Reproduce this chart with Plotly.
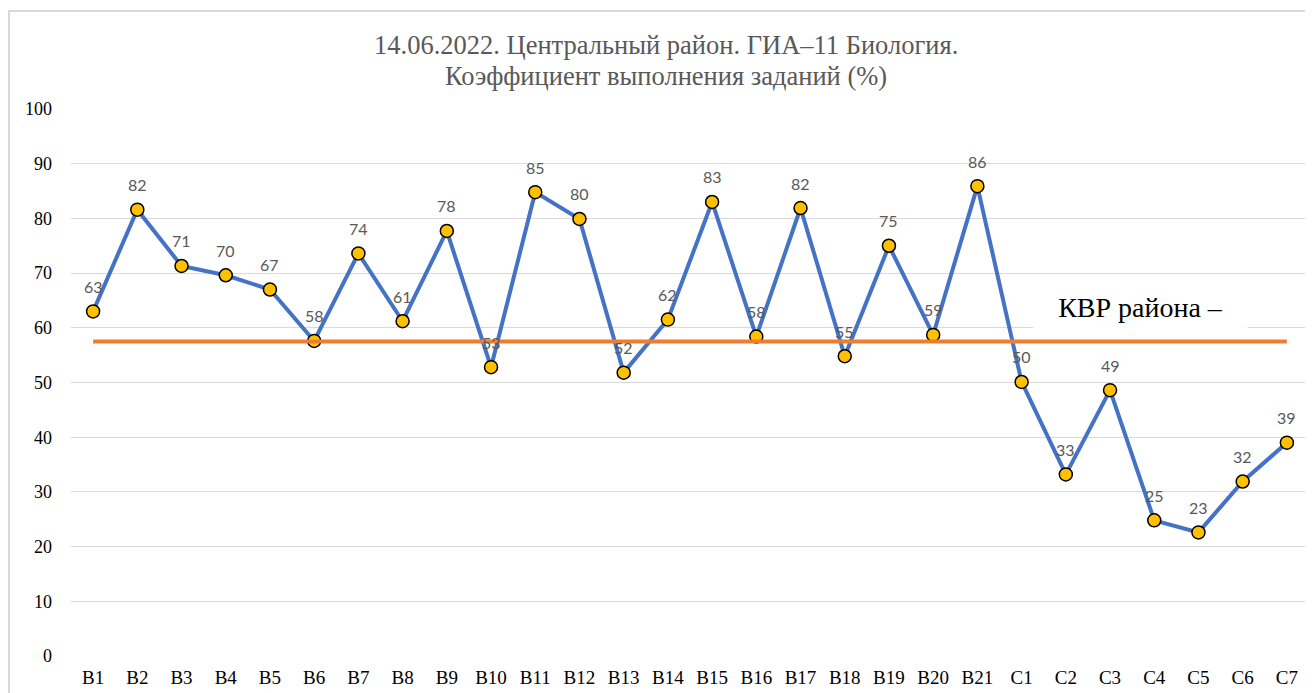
import plotly.graph_objects as go

categories = ["B1", "B2", "B3", "B4", "B5", "B6", "B7", "B8", "B9", "B10",
              "B11", "B12", "B13", "B14", "B15", "B16", "B17", "B18", "B19", "B20",
              "B21", "C1", "C2", "C3", "C4", "C5", "C6", "C7"]
values = [63.0, 81.6, 71.3, 69.6, 67.0, 57.6, 73.6, 61.2, 77.7, 52.8,
          84.8, 79.9, 51.8, 61.5, 83.0, 58.4, 81.9, 54.8, 75.0, 58.7,
          85.9, 50.1, 33.2, 48.6, 24.8, 22.6, 31.9, 39.0]
kvr_value = 57.5
kvr_series = [kvr_value] * len(categories)
y_ticks = [0, 10, 20, 30, 40, 50, 60, 70, 80, 90, 100]
title_lines = ["14.06.2022. Центральный район. ГИА–11 Биология.",
               "Коэффициент выполнения заданий (%)"]
kvr_label = "КВР района –"

SERIF = "'Liberation Serif', 'Times New Roman', 'DejaVu Serif', serif"

fig = go.Figure()
fig.add_trace(go.Scatter(
    x=categories, y=values, mode="lines+markers",
    line=dict(color="#4472C4", width=4),
    marker=dict(size=13, color="#FFC000", line=dict(color="#000000", width=1.5)),
    showlegend=False, hoverinfo="skip",
))
fig.add_trace(go.Scatter(
    x=categories, y=kvr_series, mode="lines",
    line=dict(color="#ED7D31", width=4),
    showlegend=False, hoverinfo="skip",
))

annotations = []
for c, v in zip(categories, values):
    annotations.append(dict(
        x=c, y=v, xref="x", yref="y", text=f"{round(v)}", showarrow=False,
        yshift=25, font=dict(family="Lato", size=16, color="#595959"),
    ))
annotations.append(dict(
    x=0.8635, y=63.8, xref="paper", yref="y", xanchor="center", yanchor="middle",
    text=kvr_label, showarrow=False,
    bgcolor="#FFFFFF", width=213, height=42, borderpad=0,
    font=dict(family=SERIF, size=28, color="#000000"),
))
# title lines (paper y: plot top = 1.0 at page y 109, 547 px per unit)
annotations.append(dict(
    x=0.481, y=1.0 + (109 - 45) / 547, xref="paper", yref="paper",
    xanchor="center", yanchor="middle", text=title_lines[0], showarrow=False,
    font=dict(family=SERIF, size=26.5, color="#595959"),
))
annotations.append(dict(
    x=0.481, y=1.0 + (109 - 76) / 547, xref="paper", yref="paper",
    xanchor="center", yanchor="middle", text=title_lines[1], showarrow=False,
    font=dict(family=SERIF, size=26.5, color="#595959"),
))

fig.update_layout(
    width=1305, height=685,
    margin=dict(l=63, r=4, t=101, b=37),
    paper_bgcolor="#FFFFFF", plot_bgcolor="#FFFFFF",
    annotations=annotations,
    shapes=[dict(type="rect", xref="paper", yref="paper",
                 x0=-0.0501, x1=1.2, y0=-0.3, y1=1.179,
                 line=dict(color="#D9D9D9", width=2), layer="below")],
    xaxis=dict(type="category", showgrid=False, zeroline=False, showline=False,
               ticks="", tickfont=dict(family=SERIF, size=19, color="#000000"),
               ticklabelstandoff=8, range=[-0.5, len(categories) - 0.5]),
    yaxis=dict(range=[0, 100], tickvals=y_ticks, showgrid=True, gridcolor="#D9D9D9",
               gridwidth=1, zeroline=False, showline=False, ticks="",
               tickfont=dict(family=SERIF, size=18, color="#000000"),
               ticklabelstandoff=18),
)

fig.write_html("out.html")
